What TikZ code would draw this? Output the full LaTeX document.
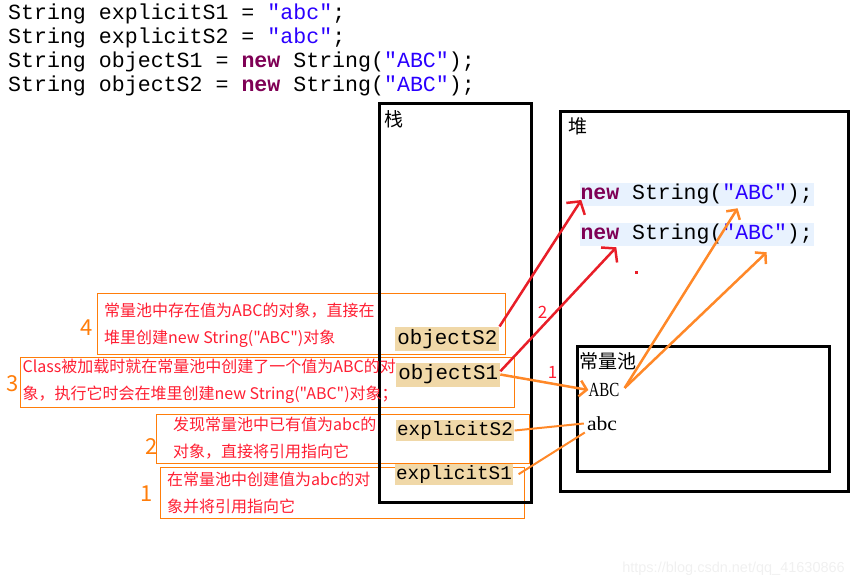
\documentclass[tikz,border=0pt]{standalone}
\usepackage{fontspec}
\usepackage{graphicx}
\usetikzlibrary{arrows.meta}
\newfontfamily\codefont{Liberation Mono}
\newfontfamily\cjkfont{Noto Sans CJK SC}
\newfontfamily\poolfont{Liberation Serif}
\setsansfont{Liberation Sans}
\definecolor{kwred}{RGB}{127,0,85}
\definecolor{strblue}{RGB}{42,0,255}
\definecolor{tanbg}{RGB}{240,216,168}
\definecolor{bluebg}{RGB}{232,242,254}
\definecolor{notered}{RGB}{255,30,50}
\definecolor{noteorange}{RGB}{255,125,10}
\definecolor{arrred}{RGB}{232,30,40}
\definecolor{arrorange}{RGB}{255,136,40}
\begin{document}
\begin{tikzpicture}[x=1pt,y=-1pt,
    code/.style={anchor=base west, inner sep=0, font=\codefont\fontsize{21.6}{24}\selectfont},
    heapobj/.style={fill=bluebg, anchor=west, inner xsep=1pt, inner ysep=0, minimum height=23.3pt, font=\codefont\fontsize{21.5}{21.5}\selectfont},
    var/.style={fill=tanbg, inner xsep=2pt, inner ysep=0, minimum height=24pt, font=\codefont\fontsize{20.8}{20.8}\selectfont},
    exvar/.style={var, inner xsep=1.5pt, minimum height=21pt, font=\codefont\fontsize{19.3}{19.3}\selectfont},
    notebox/.style={draw=noteorange, line width=1.4pt, anchor=north west, inner sep=0},
    notetext/.style={anchor=west, align=left, inner sep=0, text=notered, font=\cjkfont\fontsize{16}{27}\selectfont},
    stepnum/.style={text=noteorange, inner sep=0, font=\cjkfont\fontsize{22}{22}\selectfont},
    refnum/.style={text=notered, inner sep=0, font=\cjkfont\fontsize{17}{17}\selectfont},
    region/.style={draw, line width=3pt},
    areaname/.style={inner sep=0, font=\cjkfont\fontsize{19}{19}\selectfont},
    poolval/.style={inner sep=0, font=\poolfont\fontsize{20}{20}\selectfont},
    toheap/.style={draw=arrred, line width=2.5pt, -{Straight Barb[length=9pt,width=22pt]}},
    topool/.style={draw=arrorange, line width=2.5pt, -{Straight Barb[length=7pt,width=16pt]}},
    link/.style={draw=arrorange, line width=2pt}]
        \useasboundingbox (0,0) rectangle (855,587);

        % source code
        \node [code] (c1) at (8,19) {String explicitS1 = \textcolor{strblue}{"abc"};};
        \node [code] (c2) at (8,43) {String explicitS2 = \textcolor{strblue}{"abc"};};
        \node [code] (c3) at (8,67) {String objectS1 = \textcolor{kwred}{\bfseries new} String(\textcolor{strblue}{"ABC"});};
        \node [code] (c4) at (8,91) {String objectS2 = \textcolor{kwred}{\bfseries new} String(\textcolor{strblue}{"ABC"});};

        % notes
        \node [notebox, minimum width=408pt, minimum height=61pt] (box4) at (96.5,292.5) {};
        \node [notebox, minimum width=494pt, minimum height=50pt] (box3) at (19.5,356.5) {};
        \node [notebox, minimum width=373pt, minimum height=49pt] (box2) at (155.5,413.5) {};
        \node [notebox, minimum width=364pt, minimum height=51pt] (box1) at (159.5,466.5) {};

        % stack, heap, pool
        \draw [region] (379.3,103.3) rectangle (531.3,502.7);
        \draw [region] (560.7,111.3) rectangle (848.3,491.7);
        \draw [region, line width=2.7pt] (577.3,346.7) rectangle (829.7,471.3);
        \node [areaname] (stack) at (394,119) {栈};
        \node [areaname] (heap) at (577.5,126.5) {堆};
        \node [areaname, anchor=west] (pool) at (579,361) {常量池};

        \node [heapobj] (obj1) at (579.3,194.4) {\textcolor{kwred}{\bfseries new} String(\textcolor{strblue}{"ABC"});};
        \node [heapobj] (obj2) at (579.3,234.4) {\textcolor{kwred}{\bfseries new} String(\textcolor{strblue}{"ABC"});};
        \fill [arrred] (635.3,270.8) rectangle +(3,3);

        \node [var] (objS2) at (447.4,338.7) {objectS2};
        \node [var] (objS1) at (448.2,374.5) {objectS1};
        \node [exvar] (exS2) at (455,430.5) {explicitS2};
        \node [exvar] (exS1) at (454,474.2) {explicitS1};

        \node [poolval] (ABC) at (604,390) {\scalebox{0.75}[1]{ABC}};
        \node [poolval] (abc) at (602,423.5) {\scalebox{1.08}[1]{abc}};

        \node [notetext] (t4) at (104,325.5) {常量池中存在值为ABC的对象，直接在\\堆里创建new String("ABC")对象};
        \node [notetext] (t3) at (22.4,381) {Class被加载时就在常量池中创建了一个值为ABC的对\\象，执行它时会在堆里创建new String("ABC")对象；};
        \node [notetext] (t2) at (173,438.3) {发现常量池中已有值为abc的\\对象，直接将引用指向它};
        \node [notetext] (t1) at (167,493) {在常量池中创建值为abc的对\\象并将引用指向它};

        \node [stepnum] (s4) at (87,327.5) {4};
        \node [stepnum] (s3) at (12.4,384) {3};
        \node [stepnum] (s2) at (151.7,446.7) {2};
        \node [stepnum] (s1) at (146.7,494) {1};

        % references
        \draw [toheap] (objS2.north east) -- ([xshift=2pt,yshift=-5.6pt]obj1.west);
        \draw [toheap] ([yshift=-9pt]objS1.north east) -- ([xshift=37pt,yshift=-1pt]obj2.south west);
        \node [refnum] (r2) at (542.5,312.7) {2};
        \node [refnum] (r1) at (552.5,372.5) {1};

        \draw [topool] (objS1.east) -- (ABC.west);
        \draw [link] (exS2.east) -- ([xshift=-3pt]abc.west);
        \draw [link] ([xshift=5pt]exS1.east) -- ([xshift=-2pt,yshift=-9pt]abc.west);
        \draw [topool] ([xshift=5pt,yshift=2pt]ABC.east) -- ([xshift=41pt,yshift=-2pt]obj1.south);
        \draw [topool] ([xshift=5pt,yshift=2pt]ABC.east) -- ([xshift=70pt,yshift=-6pt]obj2.south);

        \node [text=gray!12, anchor=east, inner sep=0, font=\sffamily\fontsize{14.5}{14.5}\selectfont] (wm) at (845,569) {https://blog.csdn.net/qq\_41630866};
      \end{tikzpicture}
\end{document}
